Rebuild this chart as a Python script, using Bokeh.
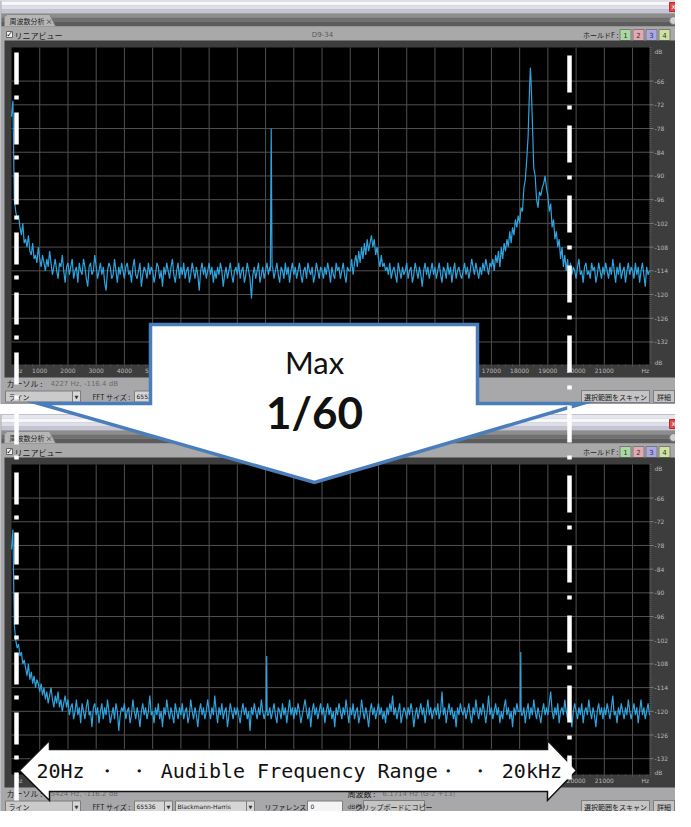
from bokeh.plotting import figure
from bokeh.models import Range1d, ColumnDataSource
from bokeh.embed import file_html
from bokeh.resources import INLINE
from bokeh.core.properties import value

# ---------------- data ----------------
grid_freq = list(range(0, 22650, 50))          # Hz, 0 .. 22600

top_db = [
    -75, -71, -96, -99, -101, -100, -103, -105, -102, -107, -106, -108, -105, -109, -110, -107, -111, -110, -112, -108,
    -111, -113, -110, -112, -114, -111, -113, -109, -112, -115, -113, -111, -114, -116, -112, -113, -110, -114, -117, -113,
    -112, -115, -113, -111, -116, -114, -113, -117, -112, -114, -115, -111, -113, -116, -118, -113, -112, -115, -114, -110,
    -113, -116, -114, -112, -115, -113, -117, -119, -114, -112, -113, -116, -115, -111, -114, -117, -113, -115, -112, -114,
    -116, -113, -112, -115, -114, -117, -113, -111, -115, -116, -114, -112, -118, -115, -113, -114, -116, -112, -115, -113,
    -114, -117, -115, -112, -113, -116, -114, -118, -113, -115, -112, -114, -116, -113, -111, -115, -117, -114, -112, -116,
    -113, -115, -112, -116, -114, -113, -117, -115, -112, -114, -116, -113, -115, -119, -114, -112, -115, -113, -116, -114,
    -112, -115, -113, -117, -114, -116, -113, -115, -112, -114, -118, -115, -113, -116, -114, -112, -115, -117, -114, -113,
    -115, -112, -116, -114, -113, -117, -115, -112, -114, -116, -121, -115, -113, -116, -114, -112, -117, -115, -113, -116,
    -114, -112, -115, -113, -78, -113, -116, -114, -112, -115, -117, -113, -114, -116, -112, -115, -113, -117, -114, -112,
    -115, -113, -116, -114, -112, -115, -117, -114, -113, -116, -112, -114, -115, -113, -117, -115, -112, -114, -116, -113,
    -114, -116, -113, -115, -112, -114, -117, -113, -115, -116, -112, -114, -113, -116, -114, -112, -115, -117, -113, -114,
    -114, -111, -115, -112, -110, -113, -109, -112, -108, -111, -107, -110, -106, -109, -107, -105, -108, -106, -110, -108,
    -111, -113, -110, -113, -112, -114, -113, -115, -112, -116, -114, -113, -115, -117, -112, -114, -116, -113, -115, -114,
    -112, -116, -114, -113, -117, -115, -112, -114, -116, -113, -115, -118, -114, -112, -115, -113, -116, -114, -112, -115,
    -113, -116, -114, -112, -115, -117, -113, -114, -116, -112, -115, -113, -117, -114, -112, -116, -114, -113, -115, -116,
    -114, -112, -115, -113, -116, -114, -111, -113, -115, -112, -114, -116, -113, -115, -112, -114, -111, -113, -115, -112,
    -113, -111, -114, -110, -112, -109, -113, -108, -111, -107, -109, -106, -108, -104, -107, -103, -105, -101, -103, -100,
    -102, -98, -99, -93, -91, -86, -80, -68, -65, -76, -88, -90, -96, -98, -94, -95, -93, -92, -90, -93,
    -95, -99, -97, -103, -101, -106, -104, -108, -106, -111, -108, -113, -110, -114, -111, -116, -112, -115, -113, -114,
    -116, -113, -111, -115, -114, -117, -113, -112, -115, -114, -116, -112, -114, -113, -117, -115, -112, -114, -116, -113,
    -115, -112, -114, -116, -113, -115, -111, -114, -117, -113, -115, -112, -116, -114, -113, -117, -114, -112, -115, -113,
    -114, -116, -112, -115, -113, -117, -114, -112, -115, -118, -113, -115, -114,
]
top_fine_freq = [9170, 9230, 18380]
top_fine_db = [-114, -113, -62.6]

bottom_db = [
    -79, -74, -98, -102, -104, -103, -106, -105, -108, -107, -109, -111, -108, -112, -110, -113, -111, -114, -112, -113,
    -115, -113, -116, -114, -117, -115, -118, -116, -114, -117, -119, -116, -118, -115, -119, -117, -120, -118, -116, -119,
    -117, -121, -119, -118, -122, -120, -117, -121, -119, -123, -118, -120, -122, -119, -117, -121, -120, -124, -119, -118,
    -121, -119, -123, -120, -118, -122, -119, -121, -117, -120, -123, -121, -119, -122, -118, -120, -125, -121, -119, -120,
    -118, -122, -120, -119, -123, -121, -117, -120, -122, -119, -121, -124, -120, -118, -121, -119, -122, -120, -116, -121,
    -120, -123, -119, -121, -118, -122, -120, -124, -119, -121, -117, -120, -122, -119, -121, -123, -118, -120, -122, -119,
    -121, -118, -122, -120, -119, -123, -121, -117, -120, -122, -119, -121, -124, -120, -118, -121, -119, -122, -120, -117,
    -120, -122, -119, -121, -116, -120, -123, -119, -121, -118, -122, -120, -119, -124, -121, -118, -120, -122, -119, -121,
    -119, -121, -123, -120, -118, -121, -119, -122, -120, -125, -119, -121, -118, -120, -122, -119, -121, -117, -120, -122,
    -120, -118, -121, -119, -122, -120, -118, -121, -123, -119, -120, -122, -118, -121, -119, -123, -120, -117, -121, -119,
    -122, -119, -121, -118, -120, -123, -121, -119, -117, -120, -122, -119, -124, -120, -118, -121, -119, -122, -120, -118,
    -121, -119, -123, -120, -118, -121, -119, -122, -120, -124, -119, -121, -118, -120, -122, -119, -121, -117, -120, -123,
    -119, -121, -118, -122, -120, -119, -123, -121, -117, -120, -122, -119, -121, -124, -120, -118, -121, -119, -122, -120,
    -118, -121, -119, -122, -120, -123, -119, -121, -118, -120, -116, -121, -119, -122, -120, -118, -123, -121, -119, -120,
    -122, -119, -121, -118, -120, -124, -121, -119, -122, -120, -118, -121, -119, -123, -120, -117, -121, -119, -122, -120,
    -119, -121, -118, -122, -120, -115, -121, -119, -123, -120, -118, -121, -119, -122, -120, -124, -119, -121, -118, -120,
    -121, -119, -122, -120, -118, -121, -123, -119, -121, -117, -120, -122, -119, -121, -118, -120, -123, -120, -116, -121,
    -119, -122, -120, -118, -121, -119, -123, -120, -122, -119, -117, -121, -119, -122, -120, -124, -119, -121, -118, -120,
    -120, -118, -121, -119, -123, -120, -118, -122, -119, -121, -117, -120, -122, -119, -121, -123, -120, -118, -121, -119,
    -121, -118, -115, -120, -122, -119, -121, -118, -123, -120, -119, -121, -117, -120, -122, -119, -121, -124, -120, -118,
    -120, -122, -119, -121, -118, -123, -120, -119, -121, -117, -120, -122, -119, -121, -124, -120, -118, -121, -119, -122,
    -119, -121, -118, -120, -122, -119, -116, -121, -120, -123, -119, -121, -118, -120, -122, -119, -121, -117, -120, -122,
    -120, -118, -121, -119, -123, -120, -117, -121, -119, -122, -120, -118, -121,
]
bottom_fine_freq = [9020, 9040, 9060, 18020, 18040, 18060]
bottom_fine_db = [-120, -106, -121, -120, -105, -121]

hz_ticks = [1000 * k for k in range(1, 23)]
hz_labels = [str(v) for v in hz_ticks[:-1]]
db_ticks = [-66, -72, -78, -84, -90, -96, -102, -108, -114, -120, -126, -132]
db_labels = [str(v) for v in db_ticks]

hold_labels = ["1", "2", "3", "4"]
hold_colors = ["#a9d8a0", "#e4a9b3", "#aaa8e6", "#cfe3a0"]


def merged(f1, d1, f2, d2):
    pairs = sorted(zip(list(f1) + list(f2), list(d1) + list(d2)))
    return [a for a, _ in pairs], [b for _, b in pairs]


# ---------------- figure (page-pixel canvas) ----------------
p = figure(width=675, height=811, x_range=Range1d(8, 683), y_range=Range1d(819, 8),
           output_backend="svg", toolbar_location=None, min_border=0,
           x_axis_location=None, y_axis_location=None)
p.grid.visible = False
p.outline_line_color = None
p.background_fill_color = "#ffffff"
p.border_fill_color = "#ffffff"

JP = "Noto Sans CJK JP"


def box(x0, x1, y0, y1, fill, line=None, lw=1):
    p.quad(left=[x0], right=[x1], top=[y0], bottom=[y1], fill_color=fill,
           line_color=line, line_width=lw)


def txt(x, y, s, size="8px", color="#111111", align="left", font=JP, style="normal",
        baseline="middle"):
    p.text(x=[x], y=[y], text=[s], text_font=value(font), text_font_size=size,
           text_color=color, text_align=align, text_baseline=baseline,
           text_font_style=style)


def window(oy, ob, plot_top, plot_bot, db_bot, freq, db, cursor, full_controls):
    # window body
    box(8, 690, 5 + oy, 411 + ob, "#a8a8aa", "#9a9aa6")
    # title bar
    for y0, y1, c in [(5, 9, "#e6e6ef"), (9, 13, "#f7f7fb"), (13, 17, "#dedee9"), (17, 21, "#c4c4d3")]:
        box(9, 689, y0 + oy, y1 + oy, c)
    box(677, 685, 10 + oy, 19 + oy, "#dd4b4b", "#b03030")
    txt(681, 14.5 + oy, "x", size="7px", color="#ffffff", align="center", font="DejaVu Sans")
    # tab bar
    for y0, y1, c in [(21, 25, "#8d8d8d"), (25, 29, "#707070"), (29, 34, "#5c5c5c")]:
        box(9, 689, y0 + oy, y1 + oy, c)
    p.patch(x=[12, 12, 15, 57, 63], y=[34 + oy, 24 + oy, 22 + oy, 22 + oy, 34 + oy],
            fill_color="#b6b6b6", line_color="#8a8a8a")
    txt(17, 28.5 + oy, "周波数分析", size="7px", color="#222222")
    txt(53, 28.5 + oy, "×", size="7px", color="#222222")
    p.scatter(x=[681], y=[28 + oy], size=8, fill_color="#d0d0d0", line_color="#777777")
    # toolbar
    box(9, 689, 34 + oy, 48 + oy, "#a9a9a9")
    box(14, 20, 39 + oy, 45 + oy, "#f2f2f2", "#666666")
    txt(17, 42 + oy, "✓", size="8px", color="#111111", align="center", font="DejaVu Sans")
    txt(22, 42.5 + oy, "リニアビュー", size="8px", color="#1a1a1a")
    txt(330, 42.5 + oy, "D9-34", size="7px", color="#5a5a5a", align="center", font="DejaVu Sans")
    txt(626, 42.5 + oy, "ホールドF :", size="7px", color="#1a1a1a", align="right")
    p.rect(x=[633, 646, 659, 672], y=[42.5 + oy] * 4, width=11, height=11,
           fill_color=hold_colors, line_color="#7a7a7a")
    p.text(x=[633, 646, 659, 672], y=[42.5 + oy] * 4, text=hold_labels,
           text_font=value("DejaVu Sans"), text_font_size="7px", text_color="#333333",
           text_align="center", text_baseline="middle")
    # dark surround and black plot
    box(12, 685, 48 + oy, plot_bot + 13, "#3d3d3d")
    box(19, 657, plot_top, plot_bot, "#000000")

    data_sp = p.subplot(x_source=Range1d(0, 22600), x_target=Range1d(19, 657),
                        y_source=Range1d(db_bot, -57.5), y_target=Range1d(plot_bot, plot_top))
    # grid
    data_sp.segment(x0=hz_ticks, x1=hz_ticks, y0=[db_bot] * len(hz_ticks), y1=[-57.5] * len(hz_ticks),
                    line_color="#505050", line_width=1)
    data_sp.segment(x0=[0] * len(db_ticks), x1=[22600] * len(db_ticks), y0=db_ticks, y1=db_ticks,
                    line_color="#505050", line_width=1)
    # spectrum
    src = ColumnDataSource(dict(f=freq, db=db))
    data_sp.line(x="f", y="db", source=src, line_color="#2ea3de", line_width=1.2)

    # right axis (x in page pixels, y in dB)
    ysp = p.subplot(x_source=Range1d(0, 1), x_target=Range1d(0, 1),
                    y_source=Range1d(db_bot, -57.5), y_target=Range1d(plot_bot, plot_top))
    minor = [v / 2.0 for v in range(-275, -114)]
    minor = [m for m in minor if m >= db_bot]
    ysp.segment(x0=[657] * len(minor), x1=[659] * len(minor), y0=minor, y1=minor,
                line_color="#6a6a6a", line_width=0.6)
    ysp.segment(x0=[657] * len(db_ticks), x1=[661] * len(db_ticks), y0=db_ticks, y1=db_ticks,
                line_color="#8a8a8a", line_width=0.8)
    ysp.text(x=[662] * len(db_ticks), y=db_ticks, text=db_labels, text_font=value("DejaVu Sans"),
             text_font_size="6px", text_color="#b8b8b8", text_baseline="middle")
    ysp.text(x=[662, 662], y=[-58.5, db_bot + 0.5], text=["dB", "dB"], text_font=value("DejaVu Sans"),
             text_font_size="6px", text_color="#b8b8b8", text_baseline="middle")

    # bottom axis (x in Hz, y in page pixels)
    xsp = p.subplot(x_source=Range1d(0, 22600), x_target=Range1d(19, 657),
                    y_source=Range1d(0, 1), y_target=Range1d(0, 1))
    mticks = [250 * k for k in range(1, 91)]
    xsp.segment(x0=mticks, x1=mticks, y0=[plot_bot] * len(mticks), y1=[plot_bot + 2] * len(mticks),
                line_color="#6a6a6a", line_width=0.6)
    xsp.text(x=hz_ticks[:-1], y=[plot_bot + 6] * len(hz_labels), text=hz_labels,
             text_font=value("DejaVu Sans"), text_font_size="6px", text_color="#b8b8b8",
             text_align="center", text_baseline="middle")
    xsp.text(x=[250, 22450], y=[plot_bot + 6] * 2, text=["Hz", "Hz"],
             text_font=value("DejaVu Sans"), text_font_size="6px", text_color="#b8b8b8",
             text_align="center", text_baseline="middle")

    # status and control rows
    cy = plot_bot + 19
    ry = plot_bot + 32
    txt(14, cy, "カーソル :", size="8px", color="#1a1a1a")
    txt(58, cy, cursor, size="7px", color="#6a6a6a", font="DejaVu Sans")
    box(13, 88, ry - 5.5, ry + 5.5, "#cacaca", "#7d7d7d")
    box(80, 88, ry - 5.5, ry + 5.5, "#d8d8d8", "#7d7d7d")
    txt(16, ry, "ライン", size="7px", color="#1a1a1a")
    txt(84, ry, "▼", size="5px", color="#333333", align="center", font="DejaVu Sans")
    txt(100, ry, "FFT サイズ :", size="7px", color="#1a1a1a")
    box(142, 172, ry - 5.5, ry + 5.5, "#d6d6d6", "#7d7d7d")
    txt(144, ry, "65536", size="6px", color="#1a1a1a", font="DejaVu Sans")
    box(172, 180, ry - 5.5, ry + 5.5, "#d8d8d8", "#7d7d7d")
    txt(176, ry, "▼", size="5px", color="#333333", align="center", font="DejaVu Sans")
    box(589, 657, ry - 6, ry + 6, "#c4c4c4", "#7d7d7d")
    txt(623, ry, "選択範囲をスキャン", size="7px", color="#1a1a1a", align="center")
    box(661, 682, ry - 6, ry + 6, "#c4c4c4", "#7d7d7d")
    txt(671.5, ry, "詳細", size="7px", color="#1a1a1a", align="center")
    if full_controls:
        box(183, 254, ry - 5.5, ry + 5.5, "#d6d6d6", "#7d7d7d")
        txt(185, ry, "Blackmann-Harris", size="6px", color="#1a1a1a", font="DejaVu Sans")
        box(254, 262, ry - 5.5, ry + 5.5, "#d8d8d8", "#7d7d7d")
        txt(258, ry, "▼", size="5px", color="#333333", align="center", font="DejaVu Sans")
        txt(272, ry, "リファレンス :", size="7px", color="#1a1a1a")
        box(315, 350, ry - 5.5, ry + 5.5, "#f4f4f4", "#7d7d7d")
        txt(318, ry, "0", size="6px", color="#1a1a1a", font="DejaVu Sans")
        txt(355, ry, "dBFS", size="6px", color="#333333", font="DejaVu Sans")
        box(371, 432, ry - 6, ry + 6, "#c4c4c4", "#7d7d7d")
        txt(401.5, ry, "クリップボードにコピー", size="7px", color="#1a1a1a", align="center")
        txt(355, cy, "周波数 :", size="8px", color="#1a1a1a")
        txt(390, cy, "6.1714 Hz (G-2 +13)", size="7px", color="#6a6a6a", font="DejaVu Sans")


f_top, d_top = merged(grid_freq, top_db, top_fine_freq, top_fine_db)
f_bot, d_bot = merged(grid_freq, bottom_db, bottom_fine_freq, bottom_fine_db)

window(0, 0, 55, 372, -137.7, f_top, d_top, "4227 Hz, -116.4 dB", False)
window(417, 412, 472, 782, -136.0, f_bot, d_bot, "5424 Hz, -116.2 dB", True)

# ---------------- blue callout arrow ----------------
p.patch(x=[158, 485, 485, 590, 322, 46, 158], y=[332, 332, 411, 411, 490, 411, 411],
        fill_color="#ffffff", line_color="#4a7ebb", line_width=3.5, line_join="miter")
txt(322, 369, "Max", size="31px", color="#111111", align="center", font="Lato")
txt(322, 419, "1/60", size="44px", color="#111111", align="center", font="Lato", style="bold")

# ---------------- white double arrow ----------------
p.patch(x=[27, 57, 57, 555, 555, 584, 555, 555, 57, 57],
        y=[778, 748, 757, 757, 748, 778, 808, 799, 799, 808],
        fill_color="#ffffff", line_color="#111111", line_width=1.5, line_join="miter")
txt(44, 778, "20Hz  ・ ・  Audible Frequency Range・ ・  20kHz", size="20px",
    color="#111111", font="DejaVu Sans Mono")

# ---------------- dash-dot markers ----------------
p.segment(x0=[24], y0=[60], x1=[24], y1=[808], line_color="#ffffff", line_width=4.5,
          line_dash="32 11 4 13")
p.segment(x0=[577], y0=[63], x1=[577], y1=[787], line_color="#ffffff", line_width=4.5,
          line_dash="37 13 4 16")

open("out.html", "w").write(file_html(p, INLINE))
